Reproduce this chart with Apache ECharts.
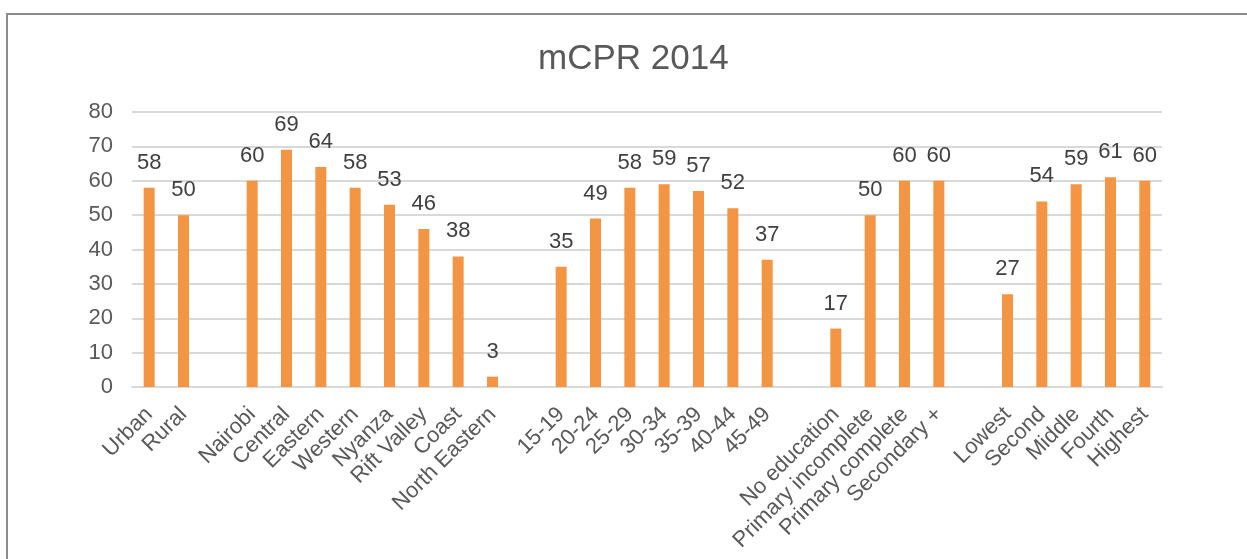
<!DOCTYPE html>
<html>
<head>
<meta charset="utf-8">
<script src="https://cdn.jsdelivr.net/npm/echarts@6/dist/echarts.min.js"></script>
<style>
  html, body { margin: 0; padding: 0; background: #fff; }
  #chart { width: 1247px; height: 559px; }
</style>
</head>
<body>
<div id="chart"></div>
<script>
// categories, empty strings are the spacer columns between groups
const categories = [
  'Urban', 'Rural', '',
  'Nairobi', 'Central', 'Eastern', 'Western', 'Nyanza', 'Rift Valley', 'Coast', 'North Eastern', '',
  '15-19', '20-24', '25-29', '30-34', '35-39', '40-44', '45-49', '',
  'No education', 'Primary incomplete', 'Primary complete', 'Secondary +', '',
  'Lowest', 'Second', 'Middle', 'Fourth', 'Highest'
]
const mcpr = [
  58, 50, '-',
  60, 69, 64, 58, 53, 46, 38, 3, '-',
  35, 49, 58, 59, 57, 52, 37, '-',
  17, 50, 60, 60, '-',
  27, 54, 59, 61, 60
]
const yTicks = { min: 0, max: 80, interval: 10 }

const chart = echarts.init(document.getElementById('chart'))
const textColor = '#595959'

const option = {
  animation: false,
  backgroundColor: '#fff',
  textStyle: { fontFamily: 'Liberation Sans, Arial, sans-serif' },
  title: {
    text: 'mCPR 2014',
    left: 533,
    top: 37,
    textStyle: { fontSize: 35, fontWeight: 'normal', color: textColor }
  },
  graphic: [{
    type: 'rect',
    shape: { x: 7, y: 14, width: 1300, height: 600 },
    style: { fill: 'none', stroke: '#8c8c8c', lineWidth: 2 },
    silent: true
  }],
  grid: { left: 132, right: 85, top: 112, bottom: 172 },
  xAxis: {
    type: 'category',
    data: categories,
    axisTick: { show: false },
    axisLine: { show: true, lineStyle: { color: '#d9d9d9', width: 2 } },
    axisLabel: {
      interval: 0,
      rotate: 45,
      margin: 24,
      fontSize: 22,
      color: textColor
    }
  },
  yAxis: {
    type: 'value',
    min: yTicks.min,
    max: yTicks.max,
    interval: yTicks.interval,
    axisLine: { show: false },
    axisTick: { show: false },
    splitLine: { lineStyle: { color: '#d9d9d9', width: 2 } },
    axisLabel: { fontSize: 22, color: textColor, margin: 19 }
  },
  series: [{
    name: 'mCPR',
    type: 'bar',
    data: mcpr,
    barWidth: 11,
    itemStyle: { color: '#f39542' },
    label: {
      show: true,
      position: 'top',
      distance: 14,
      fontSize: 22,
      color: '#404040'
    }
  }]
}

chart.setOption(option)
</script>
</body>
</html>
